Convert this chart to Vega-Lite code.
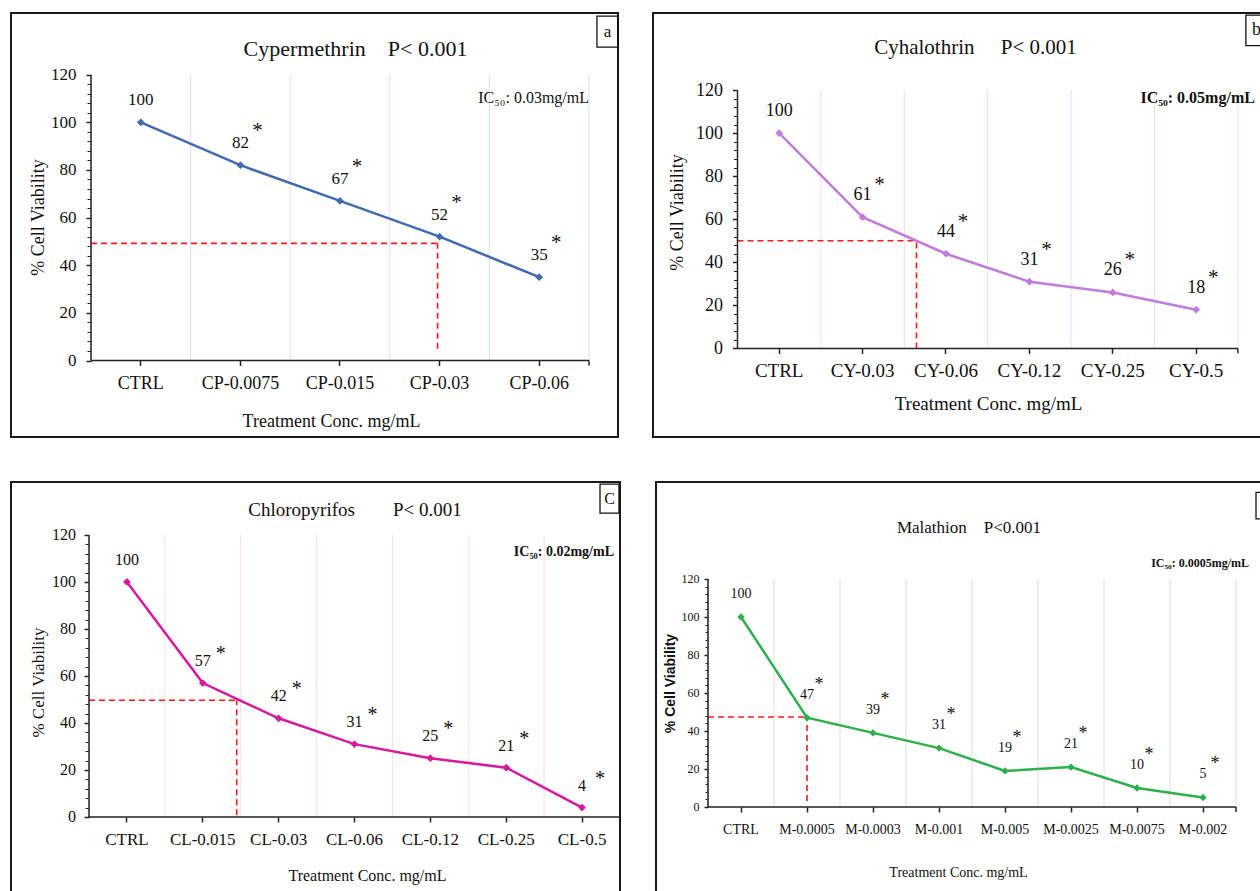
{
"$schema": "https://vega.github.io/schema/vega-lite/v6.json",
"background": "white",
"padding": {"left": 10, "top": 11, "right": -18, "bottom": -10},
"spacing": 42,
"config": {
  "view": {"stroke": "#1a1a1a", "strokeWidth": 2},
  "font": "Liberation Serif",
  "axis": {"labelColor": "#111", "titleColor": "#111", "labelFont": "Liberation Serif", "titleFont": "Liberation Serif", "titleFontWeight": "normal", "tickColor": "#222", "labelOverlap": false, "labelBound": false, "grid": false, "domain": false},
  "text": {"font": "Liberation Serif", "color": "#111"}
},
"vconcat": [
 {"spacing": 30, "hconcat": [
  {
   "width": 607, "height": 424,
   "title": {"text": "Cypermethrin\u00a0\u00a0\u00a0\u00a0P<\u00a00.001", "fontSize": 22, "font": "Liberation Serif", "fontWeight": "normal", "color": "#111", "anchor": "middle", "baseline": "middle", "offset": -58, "dx": 41},
   "data": {"values": [
     {"cat": "CTRL", "v": 100, "sig": ""},
     {"cat": "CP-0.0075", "v": 82, "sig": "*"},
     {"cat": "CP-0.015", "v": 67, "sig": "*"},
     {"cat": "CP-0.03", "v": 52, "sig": "*"},
     {"cat": "CP-0.06", "v": 35, "sig": "*"}
   ]},
   "resolve": {"axis": {"x": "independent", "y": "independent"}},
   "layer": [
    {"mark": {"type": "rule", "color": "#D9E1F0", "strokeWidth": 1},
     "encoding": {
       "x": {"field": "cat", "type": "nominal", "bandPosition": 0,
             "scale": {"type": "band", "domain": ["CTRL", "CP-0.0075", "CP-0.015", "CP-0.03", "CP-0.06"], "paddingInner": 0, "paddingOuter": 0.5472, "align": 0.7339},
             "axis": {"orient": "bottom", "offset": -76.5, "bandPosition": 0.5, "title": "Treatment Conc. mg/mL", "labelAngle": 0, "labelFontSize": 18, "labelPadding": 9, "tickSize": 5, "tickWidth": 1.5, "titleFontSize": 18, "titleX": 320, "titleY": 60.5, "titleBaseline": "middle"}},
       "y": {"datum": 0, "type": "quantitative", "axis": null}, "y2": {"datum": 120}}},
    {"data": {"values": [{}]}, "mark": {"type": "rule", "color": "#D9E1F0", "strokeWidth": 1},
     "encoding": {"x": {"datum": "CP-0.06", "type": "nominal", "bandPosition": 1, "axis": null}, "y": {"datum": 0, "type": "quantitative", "axis": null}, "y2": {"datum": 120}}},
    {"data": {"values": [{}]}, "mark": {"type": "rule", "color": "#FF1A1A", "strokeWidth": 1.6, "strokeDash": [6, 4]},
     "encoding": {"x": {"datum": "CTRL", "type": "nominal", "bandPosition": 0, "axis": null}, "x2": {"datum": "CP-0.03", "bandPosition": 0.48}, "y": {"datum": 49.2, "type": "quantitative", "axis": null}}},
    {"data": {"values": [{}]}, "mark": {"type": "rule", "color": "#FF1A1A", "strokeWidth": 1.6, "strokeDash": [6, 4]},
     "encoding": {"x": {"datum": "CP-0.03", "type": "nominal", "bandPosition": 0.48, "axis": null}, "y": {"datum": 4.9, "type": "quantitative", "axis": null}, "y2": {"datum": 49.2}}},
    {"data": {"values": [{}]}, "mark": {"type": "rule", "color": "#222", "strokeWidth": 1.5},
     "encoding": {"x": {"datum": "CTRL", "type": "nominal", "bandPosition": 0, "axis": null},
       "y": {"datum": 0, "type": "quantitative", "axis": {"orient": "left", "offset": -80, "values": [0,4,8,12,16,20,24,28,32,36,40,44,48,52,56,60,64,68,72,76,80,84,88,92,96,100,104,108,112,116,120], "labels": false, "ticks": true, "tickSize": 4, "tickWidth": 1, "domain": false, "grid": false, "title": null}},
       "y2": {"datum": 120}}},
    {"data": {"values": [{}]}, "mark": {"type": "rule", "color": "#222", "strokeWidth": 1.5},
     "encoding": {"x": {"datum": "CTRL", "type": "nominal", "bandPosition": 0, "axis": null}, "x2": {"datum": "CP-0.06", "bandPosition": 1}, "y": {"datum": 0, "type": "quantitative", "axis": null}}},
    {"data": {"values": [{}]}, "mark": {"type": "rule", "color": "#222", "strokeWidth": 1.5},
     "encoding": {"x": {"datum": "CP-0.06", "type": "nominal", "bandPosition": 1, "axis": null}, "y": {"datum": 0, "type": "quantitative", "axis": null}, "y2": {"datum": -2.1}}},
    {"mark": {"type": "line", "color": "#4169B0", "strokeWidth": 2.5, "point": {"shape": "diamond", "size": 60, "filled": true, "color": "#4169B0", "opacity": 1}},
     "encoding": {
       "x": {"field": "cat", "type": "nominal", "axis": null},
       "y": {"field": "v", "type": "quantitative", "scale": {"domain": [-32.12, 145.91], "nice": false, "zero": false},
             "axis": {"orient": "left", "offset": -80, "values": [0, 20, 40, 60, 80, 100, 120], "title": "% Cell Viability", "labelFontSize": 17, "labelPadding": 10, "tickSize": 5, "tickWidth": 1.5, "titleFontSize": 18, "titleX": -53, "titleY": 204, "titleBaseline": "middle"}}}},
    {"mark": {"type": "text", "fontSize": 17, "dy": -22, "baseline": "middle"},
     "encoding": {"x": {"field": "cat", "type": "nominal", "axis": null}, "y": {"field": "v", "type": "quantitative", "axis": null}, "text": {"field": "v", "type": "quantitative"}}},
    {"mark": {"type": "text", "fontSize": 21, "dx": 17, "dy": -34, "baseline": "middle"},
     "encoding": {"x": {"field": "cat", "type": "nominal", "axis": null}, "y": {"field": "v", "type": "quantitative", "axis": null}, "text": {"field": "sig", "type": "nominal"}}},
    {"data": {"values": [{}]}, "mark": {"type": "text", "text": "IC\u2085\u2080: 0.03mg/mL", "fontSize": 16, "align": "right", "baseline": "middle"},
     "encoding": {"x": {"datum": "CP-0.06", "type": "nominal", "bandPosition": 1, "axis": null}, "y": {"datum": 110.2, "type": "quantitative", "axis": null}}},
    {"data": {"values": [{}]}, "mark": {"type": "point", "shape": "M-0.68,-1L0.68,-1L0.68,1L-0.68,1Z", "size": 961, "filled": false, "color": "#111", "strokeWidth": 1.3, "opacity": 1, "xOffset": 18.5},
     "encoding": {"x": {"datum": "CP-0.06", "type": "nominal", "bandPosition": 1, "axis": null}, "y": {"datum": 138.1, "type": "quantitative", "axis": null}}},
    {"data": {"values": [{}]}, "mark": {"type": "text", "text": "a", "fontSize": 17, "align": "center", "baseline": "middle", "dx": 18.5},
     "encoding": {"x": {"datum": "CP-0.06", "type": "nominal", "bandPosition": 1, "axis": null}, "y": {"datum": 138.1, "type": "quantitative", "axis": null}}}
   ]
  },
  {
   "width": 615, "height": 424,
   "title": {"text": "Cyhalothrin\u00a0\u00a0\u00a0\u00a0\u00a0P<\u00a00.001", "fontSize": 21, "font": "Liberation Serif", "fontWeight": "normal", "color": "#111", "anchor": "middle", "baseline": "middle", "offset": -57, "dx": 15},
   "data": {"values": [
     {"cat": "CTRL", "v": 100, "sig": ""},
     {"cat": "CY-0.03", "v": 61, "sig": "*"},
     {"cat": "CY-0.06", "v": 44, "sig": "*"},
     {"cat": "CY-0.12", "v": 31, "sig": "*"},
     {"cat": "CY-0.25", "v": 26, "sig": "*"},
     {"cat": "CY-0.5", "v": 18, "sig": "*"}
   ]},
   "resolve": {"axis": {"x": "independent", "y": "independent"}},
   "layer": [
    {"mark": {"type": "rule", "color": "#EEDDF4", "strokeWidth": 1},
     "encoding": {
       "x": {"field": "cat", "type": "nominal", "bandPosition": 0,
             "scale": {"type": "band", "domain": ["CTRL", "CY-0.03", "CY-0.06", "CY-0.12", "CY-0.25", "CY-0.5"], "paddingInner": 0, "paddingOuter": 0.6871, "align": 0.7373},
             "axis": {"orient": "bottom", "offset": -88.6, "bandPosition": 0.5, "title": "Treatment Conc. mg/mL", "labelAngle": 0, "labelFontSize": 19, "labelPadding": 8, "tickSize": 5, "tickWidth": 1.5, "titleFontSize": 19, "titleX": 335, "titleY": 54.6, "titleBaseline": "middle"}},
       "y": {"datum": 0, "type": "quantitative", "axis": null}, "y2": {"datum": 120}}},
    {"data": {"values": [{}]}, "mark": {"type": "rule", "color": "#EEDDF4", "strokeWidth": 1},
     "encoding": {"x": {"datum": "CY-0.5", "type": "nominal", "bandPosition": 1, "axis": null}, "y": {"datum": 0, "type": "quantitative", "axis": null}, "y2": {"datum": 120}}},
    {"data": {"values": [{}]}, "mark": {"type": "rule", "color": "#FF1A1A", "strokeWidth": 1.6, "strokeDash": [6, 4]},
     "encoding": {"x": {"datum": "CTRL", "type": "nominal", "bandPosition": 0, "axis": null}, "x2": {"datum": "CY-0.06", "bandPosition": 0.146}, "y": {"datum": 50, "type": "quantitative", "axis": null}}},
    {"data": {"values": [{}]}, "mark": {"type": "rule", "color": "#FF1A1A", "strokeWidth": 1.6, "strokeDash": [6, 4]},
     "encoding": {"x": {"datum": "CY-0.06", "type": "nominal", "bandPosition": 0.146, "axis": null}, "y": {"datum": 0, "type": "quantitative", "axis": null}, "y2": {"datum": 50}}},
    {"data": {"values": [{}]}, "mark": {"type": "rule", "color": "#222", "strokeWidth": 1.5},
     "encoding": {"x": {"datum": "CTRL", "type": "nominal", "bandPosition": 0, "axis": null},
       "y": {"datum": 0, "type": "quantitative", "axis": {"orient": "left", "offset": -84.5, "values": [0,4,8,12,16,20,24,28,32,36,40,44,48,52,56,60,64,68,72,76,80,84,88,92,96,100,104,108,112,116,120], "labels": false, "ticks": true, "tickSize": 4, "tickWidth": 1, "domain": false, "grid": false, "title": null}},
       "y2": {"datum": 120}}},
    {"data": {"values": [{}]}, "mark": {"type": "rule", "color": "#222", "strokeWidth": 1.5},
     "encoding": {"x": {"datum": "CTRL", "type": "nominal", "bandPosition": 0, "axis": null}, "x2": {"datum": "CY-0.5", "bandPosition": 1}, "y": {"datum": 0, "type": "quantitative", "axis": null}}},
    {"data": {"values": [{}]}, "mark": {"type": "rule", "color": "#222", "strokeWidth": 1.5},
     "encoding": {"x": {"datum": "CY-0.5", "type": "nominal", "bandPosition": 1, "axis": null}, "y": {"datum": 0, "type": "quantitative", "axis": null}, "y2": {"datum": -2.3}}},
    {"mark": {"type": "line", "color": "#C07CDC", "strokeWidth": 2.5, "point": {"shape": "diamond", "size": 60, "filled": true, "color": "#C07CDC", "opacity": 1}},
     "encoding": {
       "x": {"field": "cat", "type": "nominal", "axis": null},
       "y": {"field": "v", "type": "quantitative", "scale": {"domain": [-41.17, 155.87], "nice": false, "zero": false},
             "axis": {"orient": "left", "offset": -84.5, "values": [0, 20, 40, 60, 80, 100, 120], "title": "% Cell Viability", "labelFontSize": 18, "labelPadding": 10, "tickSize": 5, "tickWidth": 1.5, "titleFontSize": 18, "titleX": -60.5, "titleY": 199, "titleBaseline": "middle"}}}},
    {"mark": {"type": "text", "fontSize": 18, "dy": -22, "baseline": "middle"},
     "encoding": {"x": {"field": "cat", "type": "nominal", "axis": null}, "y": {"field": "v", "type": "quantitative", "axis": null}, "text": {"field": "v", "type": "quantitative"}}},
    {"mark": {"type": "text", "fontSize": 21, "dx": 17, "dy": -32, "baseline": "middle"},
     "encoding": {"x": {"field": "cat", "type": "nominal", "axis": null}, "y": {"field": "v", "type": "quantitative", "axis": null}, "text": {"field": "sig", "type": "nominal"}}},
    {"data": {"values": [{}]}, "mark": {"type": "text", "text": "IC\u2085\u2080: 0.05mg/mL", "fontSize": 16, "fontWeight": "bold", "align": "right", "baseline": "middle", "dx": 17},
     "encoding": {"x": {"datum": "CY-0.5", "type": "nominal", "bandPosition": 1, "axis": null}, "y": {"datum": 116.6, "type": "quantitative", "axis": null}}},
    {"data": {"values": [{}]}, "mark": {"type": "point", "shape": "M-0.686,-1L0.686,-1L0.686,1L-0.686,1Z", "size": 936, "filled": false, "color": "#111", "strokeWidth": 1.3, "opacity": 1, "xOffset": 18.5},
     "encoding": {"x": {"datum": "CY-0.5", "type": "nominal", "bandPosition": 1, "axis": null}, "y": {"datum": 147.8, "type": "quantitative", "axis": null}}},
    {"data": {"values": [{}]}, "mark": {"type": "text", "text": "b", "fontSize": 18, "align": "center", "baseline": "middle", "dx": 18.5},
     "encoding": {"x": {"datum": "CY-0.5", "type": "nominal", "bandPosition": 1, "axis": null}, "y": {"datum": 147.8, "type": "quantitative", "axis": null}}}
   ]
  }
 ]},
 {"spacing": 32, "hconcat": [
  {
   "width": 609, "height": 420,
   "title": {"text": "Chloropyrifos\u00a0\u00a0\u00a0\u00a0\u00a0\u00a0\u00a0\u00a0P<\u00a00.001", "fontSize": 19, "font": "Liberation Serif", "fontWeight": "normal", "color": "#111", "anchor": "middle", "baseline": "middle", "offset": -48, "dx": 39.5},
   "data": {"values": [
     {"cat": "CTRL", "v": 100, "sig": ""},
     {"cat": "CL-0.015", "v": 57, "sig": "*"},
     {"cat": "CL-0.03", "v": 42, "sig": "*"},
     {"cat": "CL-0.06", "v": 31, "sig": "*"},
     {"cat": "CL-0.12", "v": 25, "sig": "*"},
     {"cat": "CL-0.25", "v": 21, "sig": "*"},
     {"cat": "CL-0.5", "v": 4, "sig": "*"}
   ]},
   "resolve": {"axis": {"x": "independent", "y": "independent"}},
   "layer": [
    {"mark": {"type": "rule", "color": "#F7DEEC", "strokeWidth": 1},
     "encoding": {
       "x": {"field": "cat", "type": "nominal", "bandPosition": 0,
             "scale": {"type": "band", "domain": ["CTRL", "CL-0.015", "CL-0.03", "CL-0.06", "CL-0.12", "CL-0.25", "CL-0.5"], "paddingInner": 0, "paddingOuter": 0.5141, "align": 1},
             "axis": {"orient": "bottom", "offset": -85, "bandPosition": 0.5, "title": "Treatment  Conc. mg/mL", "labelAngle": 0, "labelFontSize": 17, "labelPadding": 9, "tickSize": 5, "tickWidth": 1.5, "titleFontSize": 16, "titleX": 356, "titleY": 58, "titleBaseline": "middle"}},
       "y": {"datum": 0, "type": "quantitative", "axis": null}, "y2": {"datum": 120}}},
    {"data": {"values": [{}]}, "mark": {"type": "rule", "color": "#FF1A1A", "strokeWidth": 1.6, "strokeDash": [6, 4]},
     "encoding": {"x": {"datum": "CTRL", "type": "nominal", "bandPosition": 0, "axis": null}, "x2": {"datum": "CL-0.015", "bandPosition": 0.947}, "y": {"datum": 49.7, "type": "quantitative", "axis": null}}},
    {"data": {"values": [{}]}, "mark": {"type": "rule", "color": "#FF1A1A", "strokeWidth": 1.6, "strokeDash": [6, 4]},
     "encoding": {"x": {"datum": "CL-0.015", "type": "nominal", "bandPosition": 0.947, "axis": null}, "y": {"datum": 0.7, "type": "quantitative", "axis": null}, "y2": {"datum": 49.7}}},
    {"data": {"values": [{}]}, "mark": {"type": "rule", "color": "#222", "strokeWidth": 1.5},
     "encoding": {"x": {"datum": "CTRL", "type": "nominal", "bandPosition": 0, "axis": null},
       "y": {"datum": 0, "type": "quantitative", "axis": {"orient": "left", "offset": -78, "values": [0,4,8,12,16,20,24,28,32,36,40,44,48,52,56,60,64,68,72,76,80,84,88,92,96,100,104,108,112,116,120], "labels": false, "ticks": true, "tickSize": 4, "tickWidth": 1, "domain": false, "grid": false, "title": null}},
       "y2": {"datum": 120}}},
    {"data": {"values": [{}]}, "mark": {"type": "rule", "color": "#222", "strokeWidth": 1.5},
     "encoding": {"x": {"datum": "CTRL", "type": "nominal", "bandPosition": 0, "axis": null}, "x2": {"datum": "CL-0.5", "bandPosition": 1}, "y": {"datum": 0, "type": "quantitative", "axis": null}}},
    {"mark": {"type": "line", "color": "#D8199D", "strokeWidth": 2.5, "point": {"shape": "diamond", "size": 60, "filled": true, "color": "#D8199D", "opacity": 1}},
     "encoding": {
       "x": {"field": "cat", "type": "nominal", "axis": null},
       "y": {"field": "v", "type": "quantitative", "scale": {"domain": [-36.17, 142.55], "nice": false, "zero": false},
             "axis": {"orient": "left", "offset": -78, "values": [0, 20, 40, 60, 80, 100, 120], "title": "% Cell Viability", "labelFontSize": 16, "labelPadding": 8.5, "tickSize": 5, "tickWidth": 1.5, "titleFontSize": 17, "titleX": -51, "titleY": 200, "titleBaseline": "middle"}}}},
    {"mark": {"type": "text", "fontSize": 16, "dy": -22, "baseline": "middle"},
     "encoding": {"x": {"field": "cat", "type": "nominal", "axis": null}, "y": {"field": "v", "type": "quantitative", "axis": null}, "text": {"field": "v", "type": "quantitative"}}},
    {"mark": {"type": "text", "fontSize": 20, "dx": 18, "dy": -29, "baseline": "middle"},
     "encoding": {"x": {"field": "cat", "type": "nominal", "axis": null}, "y": {"field": "v", "type": "quantitative", "axis": null}, "text": {"field": "sig", "type": "nominal"}}},
    {"data": {"values": [{}]}, "mark": {"type": "text", "text": "IC\u2085\u2080: 0.02mg/mL", "fontSize": 14, "fontWeight": "bold", "align": "right", "baseline": "middle", "dx": -6},
     "encoding": {"x": {"datum": "CL-0.5", "type": "nominal", "bandPosition": 1, "axis": null}, "y": {"datum": 112.7, "type": "quantitative", "axis": null}}},
    {"data": {"values": [{}]}, "mark": {"type": "point", "shape": "M-0.655,-1L0.655,-1L0.655,1L-0.655,1Z", "size": 841, "filled": false, "color": "#111", "strokeWidth": 1.3, "opacity": 1, "xOffset": -10.5},
     "encoding": {"x": {"datum": "CL-0.5", "type": "nominal", "bandPosition": 1, "axis": null}, "y": {"datum": 135.5, "type": "quantitative", "axis": null}}},
    {"data": {"values": [{}]}, "mark": {"type": "text", "text": "C", "fontSize": 16, "align": "center", "baseline": "middle", "dx": -10.5},
     "encoding": {"x": {"datum": "CL-0.5", "type": "nominal", "bandPosition": 1, "axis": null}, "y": {"datum": 135.5, "type": "quantitative", "axis": null}}}
   ]
  },
  {
   "width": 606, "height": 420,
   "title": {"text": "Malathion\u00a0\u00a0\u00a0\u00a0P<0.001", "fontSize": 17, "font": "Liberation Serif", "fontWeight": "normal", "color": "#111", "anchor": "middle", "baseline": "middle", "offset": -63, "dx": 10},
   "data": {"values": [
     {"cat": "CTRL", "v": 100, "sig": ""},
     {"cat": "M-0.0005", "v": 47, "sig": "*"},
     {"cat": "M-0.0003", "v": 39, "sig": "*"},
     {"cat": "M-0.001", "v": 31, "sig": "*"},
     {"cat": "M-0.005", "v": 19, "sig": "*"},
     {"cat": "M-0.0025", "v": 21, "sig": "*"},
     {"cat": "M-0.0075", "v": 10, "sig": "*"},
     {"cat": "M-0.002", "v": 5, "sig": "*"}
   ]},
   "resolve": {"axis": {"x": "independent", "y": "independent"}},
   "layer": [
    {"mark": {"type": "rule", "color": "#DEDEDE", "strokeWidth": 1},
     "encoding": {
       "x": {"field": "cat", "type": "nominal", "bandPosition": 0,
             "scale": {"type": "band", "domain": ["CTRL", "M-0.0005", "M-0.0003", "M-0.001", "M-0.005", "M-0.0025", "M-0.0075", "M-0.002"], "paddingInner": 0, "paddingOuter": 0.5909, "align": 0.6667},
             "axis": {"orient": "bottom", "offset": -95, "bandPosition": 0.5, "title": "Treatment Conc. mg/mL", "labelAngle": 0, "labelFontSize": 14, "labelPadding": 10, "tickSize": 5, "tickWidth": 1.5, "titleFontSize": 14, "titleX": 302, "titleY": 65, "titleBaseline": "middle"}},
       "y": {"datum": 0, "type": "quantitative", "axis": null}, "y2": {"datum": 120}}},
    {"data": {"values": [{}]}, "mark": {"type": "rule", "color": "#DEDEDE", "strokeWidth": 1},
     "encoding": {"x": {"datum": "M-0.002", "type": "nominal", "bandPosition": 1, "axis": null}, "y": {"datum": 0, "type": "quantitative", "axis": null}, "y2": {"datum": 120}}},
    {"data": {"values": [{}]}, "mark": {"type": "rule", "color": "#FF1A1A", "strokeWidth": 1.6, "strokeDash": [6, 4]},
     "encoding": {"x": {"datum": "CTRL", "type": "nominal", "bandPosition": 0, "axis": null}, "x2": {"datum": "M-0.0005", "bandPosition": 0.5}, "y": {"datum": 47.4, "type": "quantitative", "axis": null}}},
    {"data": {"values": [{}]}, "mark": {"type": "rule", "color": "#FF1A1A", "strokeWidth": 1.6, "strokeDash": [6, 4]},
     "encoding": {"x": {"datum": "M-0.0005", "type": "nominal", "bandPosition": 0.5, "axis": null}, "y": {"datum": 3.1, "type": "quantitative", "axis": null}, "y2": {"datum": 47.4}}},
    {"data": {"values": [{}]}, "mark": {"type": "rule", "color": "#222", "strokeWidth": 1.5},
     "encoding": {"x": {"datum": "CTRL", "type": "nominal", "bandPosition": 0, "axis": null},
       "y": {"datum": 0, "type": "quantitative", "axis": {"orient": "left", "offset": -52, "values": [0,4,8,12,16,20,24,28,32,36,40,44,48,52,56,60,64,68,72,76,80,84,88,92,96,100,104,108,112,116,120], "labels": false, "ticks": true, "tickSize": 3, "tickWidth": 1, "domain": false, "grid": false, "title": null}},
       "y2": {"datum": 120}}},
    {"data": {"values": [{}]}, "mark": {"type": "rule", "color": "#222", "strokeWidth": 1.5},
     "encoding": {"x": {"datum": "CTRL", "type": "nominal", "bandPosition": 0, "axis": null}, "x2": {"datum": "M-0.002", "bandPosition": 1}, "y": {"datum": 0, "type": "quantitative", "axis": null}}},
    {"data": {"values": [{}]}, "mark": {"type": "rule", "color": "#222", "strokeWidth": 1.5},
     "encoding": {"x": {"datum": "M-0.002", "type": "nominal", "bandPosition": 1, "axis": null}, "y": {"datum": 0, "type": "quantitative", "axis": null}, "y2": {"datum": -2.6}}},
    {"mark": {"type": "line", "color": "#2DB04C", "strokeWidth": 2.5, "point": {"shape": "diamond", "size": 55, "filled": true, "color": "#2DB04C", "opacity": 1}},
     "encoding": {
       "x": {"field": "cat", "type": "nominal", "axis": null},
       "y": {"field": "v", "type": "quantitative", "scale": {"domain": [-50, 171.05], "nice": false, "zero": false},
             "axis": {"orient": "left", "offset": -52, "values": [0, 20, 40, 60, 80, 100, 120], "title": "% Cell Viability", "labelFontSize": 12, "labelPadding": 5, "tickSize": 4, "tickWidth": 1.5, "titleFont": "Liberation Sans", "titleFontWeight": "bold", "titleFontSize": 14, "titleX": -38, "titleY": 201, "titleBaseline": "middle"}}}},
    {"mark": {"type": "text", "fontSize": 14, "dy": -23, "baseline": "middle"},
     "encoding": {"x": {"field": "cat", "type": "nominal", "axis": null}, "y": {"field": "v", "type": "quantitative", "axis": null}, "text": {"field": "v", "type": "quantitative"}}},
    {"mark": {"type": "text", "fontSize": 18, "dx": 12, "dy": -33, "baseline": "middle"},
     "encoding": {"x": {"field": "cat", "type": "nominal", "axis": null}, "y": {"field": "v", "type": "quantitative", "axis": null}, "text": {"field": "sig", "type": "nominal"}}},
    {"data": {"values": [{}]}, "mark": {"type": "text", "text": "IC\u2085\u2080: 0.0005mg/mL", "fontSize": 12, "fontWeight": "bold", "align": "right", "baseline": "middle", "dx": 13},
     "encoding": {"x": {"datum": "M-0.002", "type": "nominal", "bandPosition": 1, "axis": null}, "y": {"datum": 128.2, "type": "quantitative", "axis": null}}},
    {"data": {"values": [{}]}, "mark": {"type": "point", "shape": "M-0.83,-1L0.83,-1L0.83,1L-0.83,1Z", "size": 702, "filled": false, "color": "#111", "strokeWidth": 1.3, "opacity": 1, "xOffset": 31},
     "encoding": {"x": {"datum": "M-0.002", "type": "nominal", "bandPosition": 1, "axis": null}, "y": {"datum": 158.6, "type": "quantitative", "axis": null}}}
   ]
  }
 ]}
]
}
